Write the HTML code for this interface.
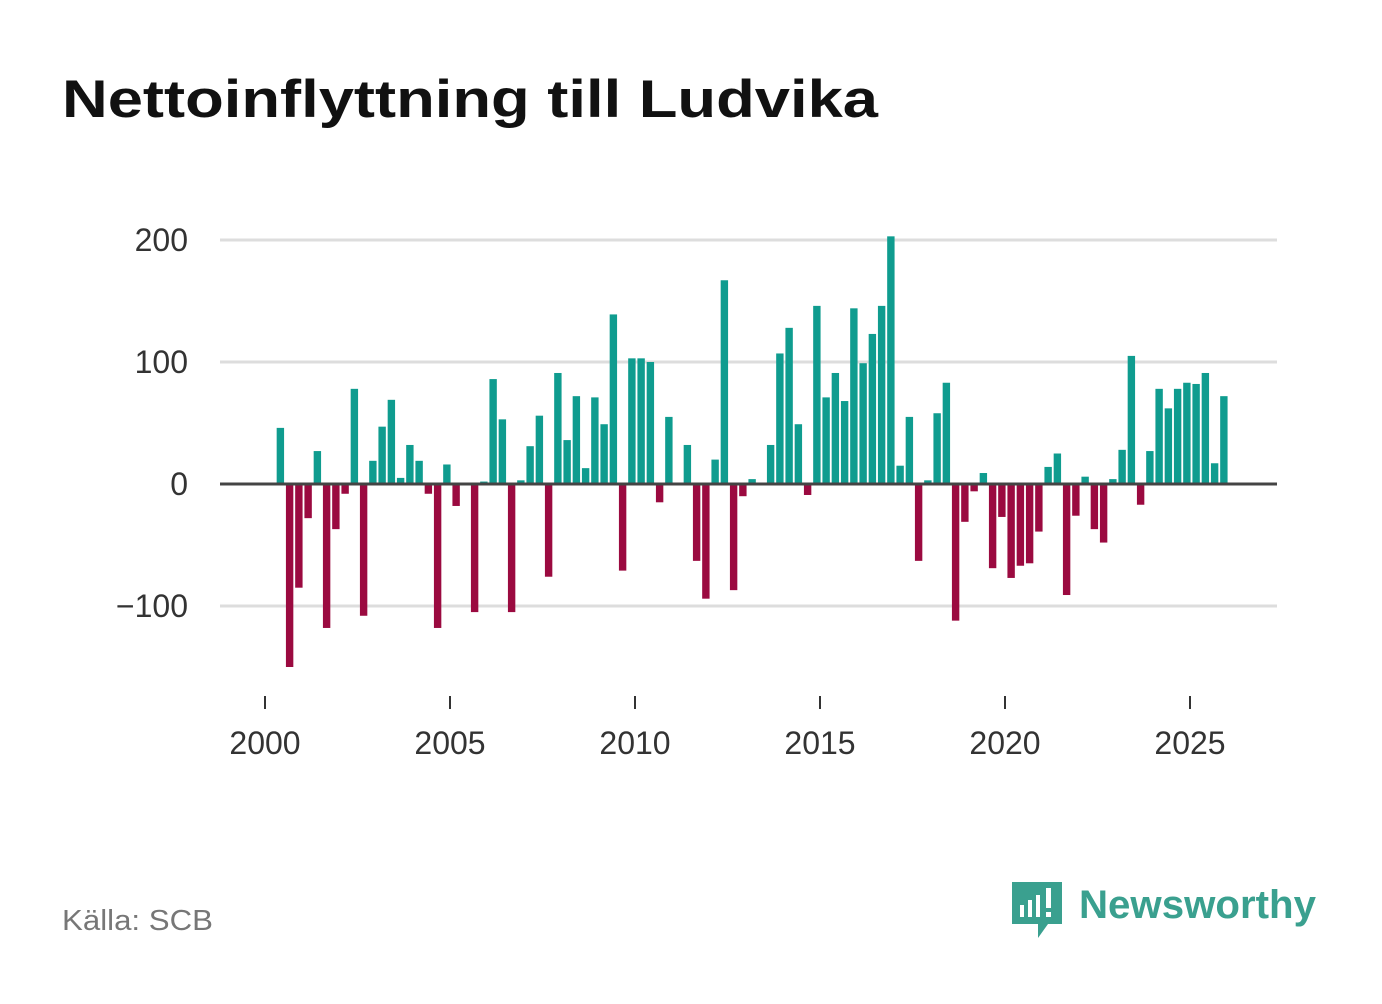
<!DOCTYPE html>
<html><head><meta charset="utf-8"><style>
body{margin:0;background:#fff;font-family:"Liberation Sans",sans-serif;}
</style></head><body>
<svg width="1382" height="999" xmlns="http://www.w3.org/2000/svg">
<text x="62" y="117" font-size="53" font-weight="bold" fill="#111" textLength="816" lengthAdjust="spacingAndGlyphs">Nettoinflyttning till Ludvika</text>
<g id="grid"></g>
<g id="bars"></g>
<g id="axes"></g>
<text x="62" y="930" font-size="29" fill="#777" textLength="151" lengthAdjust="spacingAndGlyphs">Källa: SCB</text>
<g>
<path d="M1012 882h50v42h-14l-10 14v-14h-26z" fill="#3aa08f"/>
<rect x="1020" y="905" width="4" height="12" fill="#fff"/><rect x="1028" y="900" width="4" height="17" fill="#fff"/><rect x="1036" y="895" width="4" height="22" fill="#fff"/><rect x="1046" y="888" width="5" height="20" fill="#fff"/><rect x="1046" y="912" width="5" height="5" fill="#fff"/>
<text x="1079" y="918" font-size="40" font-weight="bold" fill="#3aa08f" textLength="237" lengthAdjust="spacingAndGlyphs">Newsworthy</text>
</g>
</svg>
<script>
const years=[2000,2005,2010,2015,2020,2025];
const yTicks=[200,100,0,-100];
const yTickLabels=["200","100","0","−100"];
const startYear=2000, startQuarter=2;
const values=[46,-150,-85,-28,27,-118,-37,-8,78,-108,19,47,69,5,32,19,-8,-118,16,-18,0,-105,2,86,53,-105,3,31,56,-76,91,36,72,13,71,49,139,-71,103,103,100,-15,55,0,32,-63,-94,20,167,-87,-10,4,0,32,107,128,49,-9,146,71,91,68,144,99,123,146,203,15,55,-63,3,58,83,-112,-31,-6,9,-69,-27,-77,-67,-65,-39,14,25,-91,-26,6,-37,-48,4,28,105,-17,27,78,62,78,83,82,91,17,72];
const NS="http://www.w3.org/2000/svg";
const xs=t=>265+(t-2000)*37;
const ys=v=>484-v*1.22;
function mk(tag,attrs,parent){const e=document.createElementNS(NS,tag);for(const k in attrs)e.setAttribute(k,attrs[k]);parent.appendChild(e);return e;}
const grid=document.getElementById('grid'),bars=document.getElementById('bars'),axes=document.getElementById('axes');
yTicks.forEach((v,i)=>{
 if(v!==0){const l=mk('line',{x1:220,x2:1277,y1:ys(v),y2:ys(v),stroke:'#ddd','stroke-width':3},grid);
 
 }
 const t=mk('text',{x:188,y:ys(v)+11,'font-size':32,fill:'#333','text-anchor':'end'},axes);
 t.textContent=yTickLabels[i];
 
 
});
values.forEach((v,i)=>{
 const q=startQuarter-1+i;
 const t=startYear+q/4+0.125;
 const cx=xs(t)+1.5;
 const r=mk('rect',{x:cx-3.7,width:7.4,y:Math.min(ys(v),ys(0)),height:Math.abs(ys(v)-ys(0)),fill:v>=0?'#0f9c8f':'#9b0a40'},bars);
 
 
});
const z=mk('line',{x1:220,x2:1277,y1:ys(0),y2:ys(0),stroke:'#444','stroke-width':3},axes);


years.forEach(y=>{
 const tk=mk('line',{x1:xs(y),x2:xs(y),y1:696,y2:709,stroke:'#333','stroke-width':2},axes);
 
 
 const t=mk('text',{x:xs(y),y:754,'font-size':32,fill:'#333','text-anchor':'middle'},axes);
 t.textContent=y;
 
 
});
</script>
</body></html>
